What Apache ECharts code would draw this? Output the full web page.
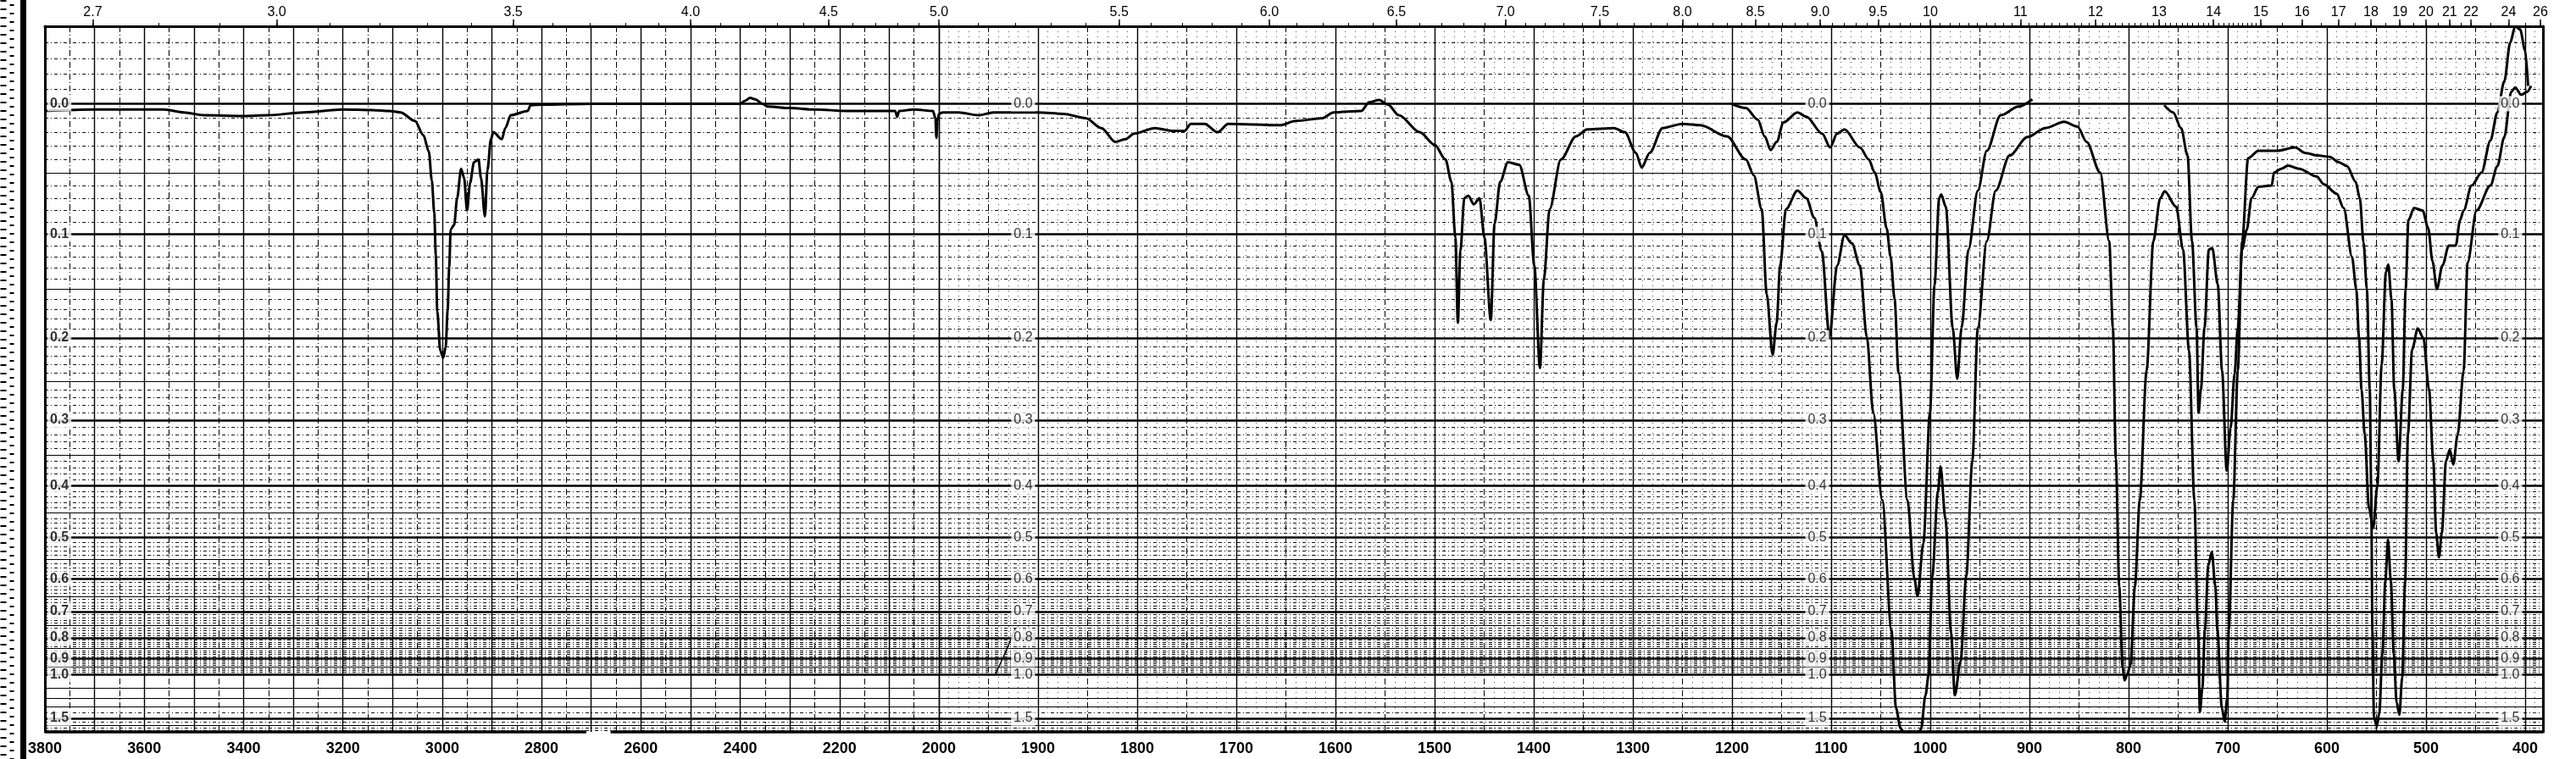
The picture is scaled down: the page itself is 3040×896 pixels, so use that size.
<!DOCTYPE html>
<html><head><meta charset="utf-8">
<script src="https://cdn.jsdelivr.net/npm/echarts@6/dist/echarts.min.js"></script>
<style>html,body{margin:0;padding:0;background:#fff}#c{width:3040px;height:896px}</style>
</head><body><div id="c"></div>
<script>
// ---- data: [wavenumber cm-1, absorbance] ----
const strongTrace = [
[3800,0.005],[3700,0.004],[3560,0.004],[3520,0.006],[3480,0.008],[3400,0.0085],[3350,0.008],[3280,0.006],[3200,0.004],[3140,0.0044],[3107,0.005],[3084,0.006],[3055,0.012],[3038,0.022],[3027,0.034],[3021,0.056],[3016,0.082],[3013,0.118],[3010,0.172],[3004,0.214],[2998,0.222],[2993,0.21],[2989,0.17],[2986,0.13],[2983,0.096],[2976,0.092],[2970,0.07],[2962,0.047],[2956,0.054],[2950,0.080],[2944,0.058],[2936,0.042],[2927,0.040],[2922,0.054],[2914,0.085],[2909,0.048],[2902,0.025],[2897,0.020],[2880,0.025],[2873,0.017],[2862,0.008],[2828,0.005],[2822,0.001],[2799,0.0006],[2700,0],[2500,0],[2400,0],[2390,-0.002],[2380,-0.004],[2370,-0.003],[2355,0],[2345,0.002],[2300,0.003],[2250,0.004],[2185,0.005],[2100,0.005],[2088,0.005],[2084,0.009],[2080,0.005],[2050,0.004],[2012,0.005],[2007,0.01],[2005,0.024],[2003,0.012],[2000,0.007],[1996,0.006],
[1980,0.006],[1960,0.008],[1945,0.006],[1900,0.006],[1874,0.007],[1852,0.010],[1836,0.017],[1822,0.027],[1812,0.025],[1803,0.021],[1782,0.017],[1765,0.019],[1752,0.019],[1746,0.014],[1732,0.014],[1719,0.020],[1708,0.014],[1656,0.015],[1640,0.012],[1613,0.010],[1602,0.006],[1574,0.005],[1566,-0.001],[1556,-0.0025],[1547,0.0006],[1536,0.008],[1515,0.020],[1500,0.029],[1489,0.04],[1483,0.057],[1479,0.103],[1476.5,0.184],[1474,0.115],[1470,0.07],[1466,0.068],[1460.4,0.075],[1454.7,0.07],[1449.7,0.103],[1443.3,0.181],[1439.5,0.091],[1433.8,0.057],[1426,0.042],[1414.6,0.044],[1405,0.068],[1399.4,0.128],[1393.7,0.234],[1389.8,0.141],[1384,0.079],[1372.6,0.040],[1357.4,0.023],[1346,0.018],[1319,0.017],[1308,0.020],[1297,0.035],[1291,0.046],[1283,0.035],[1270,0.017],[1250,0.014],[1232,0.015],[1205,0.023],[1186,0.040],[1178,0.052],[1170,0.079],[1165,0.155],[1159,0.219],[1155,0.184],[1151.4,0.128],[1145.6,0.079],[1134,0.064],[1125,0.070],[1117,0.086],[1109.4,0.115],[1101.7,0.199],[1094,0.128],[1086.5,0.101],[1079,0.108],[1071,0.128],[1064,0.199],[1057.5,0.29],[1048.4,0.426],[1039.2,0.768],[1034.6,1.32],[1030,1.8],[1027,2.0],[1012,2.0],[1009.4,1.86],[1004.8,1.17],[1001.7,1.0],[998,0.593],[992.3,0.411],[989.7,0.368],[984.6,0.463],[979,0.78],[975.2,1.17],[969.4,0.915],[963.7,0.593],[957.6,0.36],[952,0.189],[943,0.106],[934,0.064],[920,0.037],[902,0.0235],[884,0.017],[865,0.0126],[851.5,0.016],[842.3,0.027],[828.6,0.050],[819.5,0.106],[815.8,0.189],[812.8,0.356],[809.4,0.622],[806,0.95],[804,1.04],[801.5,1.0],[798,0.935],[793.6,0.622],[788.7,0.426],[781.8,0.237],[775,0.106],[768,0.070],[763.6,0.0645],[752,0.077],[745,0.1135],[739,0.2145],[733.6,0.426],[730,0.768],[728,1.38],[725.5,1.1],[723,0.768],[719.6,0.565],[716,0.532],[712.5,0.62],[710.4,0.768],[705.9,1.32],[703,1.58],[700.5,1.2],[698.9,0.768],[694.4,0.426],[689.8,0.237],[685.4,0.106],[679.4,0.039],[669,0.0335],[650,0.0335],[632,0.031],[622,0.035],[609,0.037],[597,0.038],[588,0.042],[579.5,0.045],[571,0.057],[566.7,0.07],[563,0.107],[559.6,0.15],[556.7,0.26],[555.3,0.4],[554,0.77],[552.5,1.47],[549.6,1.73],[547,1.39],[544,0.876],[541,0.607],[538.3,0.505],[535.4,0.607],[532.5,0.876],[529.6,1.25],[526.8,1.43],[524,1.02],[521,0.607],[518.2,0.32],[514,0.213],[508.3,0.19],[502.6,0.2],[496.9,0.26],[492.6,0.36],[489.7,0.49],[486.9,0.545],[484,0.49],[479.8,0.36],[476,0.342],[472.5,0.365],[468,0.32],[462,0.237],[458,0.125],[449,0.08],[435,0.06],[428,0.045],[421,0.0235],[414,-0.008],[410,-0.011],[404,-0.006],[398,-0.008],[394,-0.012]
];
const weakTrace1 = [
[1201,0],[1186,0.003],[1174,0.011],[1167,0.023],[1161,0.033],[1155,0.027],[1148,0.013],[1134,0.006],[1125,0.009],[1109,0.021],[1101,0.031],[1094,0.021],[1086.5,0.018],[1071,0.031],[1062,0.04],[1056,0.05],[1050,0.065],[1044,0.095],[1040,0.12],[1036,0.16],[1032,0.24],[1023,0.426],[1016,0.6],[1012.8,0.65],[1007,0.513],[1000.3,0.29],[995.7,0.146],[991,0.07],[989,0.067],[984.3,0.077],[977.4,0.189],[972.8,0.247],[968.4,0.189],[961.5,0.1135],[952,0.064],[943,0.0335],[929,0.008],[911,0.002],[897,-0.003]
];
const weakTrace2 = [
[764,0.001],[755,0.006],[747,0.017],[740.5,0.037],[736,0.106],[731.4,0.189],[729.4,0.29],[727,0.26],[723.4,0.189],[719,0.1135],[715.6,0.112],[710,0.1455],[705.7,0.237],[701,0.375],[697,0.31],[693,0.24],[689.8,0.189],[685.5,0.1135],[680.7,0.096],[676,0.07],[669,0.061],[655.6,0.06],[653.3,0.05],[646,0.047],[639,0.0446],[628,0.047],[610,0.053],[603,0.059],[590,0.0665],[583,0.078],[574.6,0.12],[570.3,0.15],[567.5,0.2],[565,0.26],[561.8,0.32],[557.5,0.44],[553.3,0.48],[549,0.4],[544.7,0.23],[540.4,0.134],[538,0.127],[534.8,0.16],[532,0.26],[527.6,0.36],[523.4,0.26],[520.5,0.15],[517.7,0.088],[512,0.078],[503.4,0.08],[497.7,0.095],[493.4,0.124],[489,0.15],[483.4,0.128],[477,0.11],[470,0.11],[465.6,0.088],[462,0.08],[454,0.06],[444,0.05],[435,0.026],[428,0.006],[421,-0.015],[415,-0.04],[410,-0.05],[405,-0.048],[400,-0.035],[397,-0.012]
];
const penMark = [[1943,0.997],[1933,0.87],[1923,0.763]];

// ---- axis texts ----
const bottomLabelsLeft = [3800,3600,3400,3200,3000,2800,2600,2400,2200];
const bottomLabelsRight = [2000,1900,1800,1700,1600,1500,1400,1300,1200,1100,1000,900,800,700,600,500,400];
const micronLabels = ['2.7','3.0','3.5','4.0','4.5','5.0','5.5','6.0','6.5','7.0','7.5','8.0','8.5','9.0','9.5','10','11','12','13','14','15','16','17','18','19','20','21','22','24','26'];
const absLabels = ['0.0','0.1','0.2','0.3','0.4','0.5','0.6','0.7','0.8','0.9','1.0','1.5'];
const labelColumnLeft = 3795;
const labelColumnsRight = [1915, 1114, 415];

// ---- paper grid (absorbance lines, wavenumber lines) ----
const A_MAJOR = [0,0.1,0.2,0.3,0.4,0.5,0.6,0.7,0.8,0.9,1.0,1.5];
const A_MID = [0.05,0.15,0.25,0.35,0.45,0.55,0.65,0.75,0.85,0.95,1.1,1.2,1.3,1.7];
const A_MINOR = [];
for (let i = -4; i <= 99; i++) { if (i % 5 !== 0) A_MINOR.push(i / 100); }
A_MINOR.push(1.4, 1.6, 1.8, 1.9);

const T = a => Math.pow(10, -a);
const yMin = T(2.0), yMax = T(-0.05);
const X0 = {min: 2000, max: 3800}, X1 = {min: 382, max: 2000};

const g0_100 = [], g0_50 = [], g1_100 = [], g1_50 = [], g1_10 = [];
for (let w = 2000; w <= 3700; w += 100) g0_100.push(w);
for (let w = 2050; w <= 3750; w += 100) g0_50.push(w);
for (let w = 400; w <= 2000; w += 100) g1_100.push(w);
for (let w = 450; w <= 1950; w += 100) g1_50.push(w);
for (let w = 390; w <= 1990; w += 10) { if (w % 50 !== 0) g1_10.push(w); }

const micronMinor = [];
for (let m = 27; m <= 150; m++) micronMinor.push(m / 10);
for (let m = 155; m <= 220; m += 5) micronMinor.push(m / 10);
micronMinor.push(23, 24, 25, 26);
const micLabWn = micronLabels.map(s => 1e4 / parseFloat(s));
const micMinWn = micronMinor.map(m => 1e4 / m);
const fmtMicron = v => { const m = 1e4 / v; return m < 9.99 ? m.toFixed(1) : String(Math.round(m)); };
const fmtWn = v => String(Math.round(v));

const FONT = 'Liberation Sans';

function yAxesFor(gi, pos, frame) {
  const base = {type: 'value', gridIndex: gi, min: yMin, max: yMax, position: pos, axisLabel: {show: false}};
  return [
    Object.assign({}, base, {axisLine: {show: frame, onZero: false, lineStyle: {color: '#000', width: 3}},
      axisTick: {show: false, customValues: A_MAJOR.map(T)}, splitLine: {show: true, lineStyle: {color: '#000', width: 2.6}}}),
    Object.assign({}, base, {axisLine: {show: false}, axisTick: {show: false, customValues: A_MID.map(T)},
      splitLine: {show: true, lineStyle: {color: '#000', width: 1.2}}}),
    Object.assign({}, base, {axisLine: {show: false}, axisTick: {show: false, customValues: A_MINOR.map(T)},
      splitLine: {show: true, lineStyle: {color: '#111', width: 1, type: [4, 3, 1, 3]}}})
  ];
}

function xAxesFor(gi, rng, v100, v50, v10, bottomLabels, topLab, topMin) {
  const base = {type: 'value', gridIndex: gi, min: rng.min, max: rng.max, inverse: true};
  const arr = [
    Object.assign({}, base, {position: 'bottom', axisLine: {show: false, onZero: false},
      axisTick: {show: false, customValues: v100},
      axisLabel: {show: true, customValues: bottomLabels, formatter: fmtWn, margin: 11, fontSize: 18, fontWeight: 'bold', fontFamily: FONT, color: '#000'},
      splitLine: {show: true, lineStyle: {color: '#000', width: 1.4}}}),
    Object.assign({}, base, {position: 'bottom', axisLine: {show: false, onZero: false},
      axisTick: {show: false, customValues: v50}, axisLabel: {show: false},
      splitLine: {show: true, lineStyle: {color: '#000', width: 1, type: [7, 3, 1, 3]}}}),
    Object.assign({}, base, {position: 'top', axisLine: {show: true, onZero: false, lineStyle: {color: '#000', width: 3}},
      axisTick: {show: true, customValues: topLab, length: 8, lineStyle: {color: '#000', width: 1.5}},
      axisLabel: {show: true, customValues: topLab, formatter: fmtMicron, margin: 8, fontSize: 16, fontFamily: FONT, color: '#000'},
      splitLine: {show: false}}),
    Object.assign({}, base, {position: 'top', axisLine: {show: false, onZero: false},
      axisTick: {show: true, customValues: topMin, length: 4, lineStyle: {color: '#000', width: 1}},
      axisLabel: {show: false}, splitLine: {show: false}})
  ];
  if (v10) arr.push(Object.assign({}, base, {position: 'bottom', axisLine: {show: false, onZero: false},
      axisTick: {show: false, customValues: v10}, axisLabel: {show: false},
      splitLine: {show: true, lineStyle: {color: '#555', width: 1, type: [1, 5]}}}));
  return arr;
}

const xAxes = [].concat(
  xAxesFor(0, X0, g0_100, g0_50, null, bottomLabelsLeft, micLabWn.filter(w => w > 2000.5), micMinWn.filter(w => w > 2000.5)),
  xAxesFor(1, X1, g1_100, g1_50, g1_10, bottomLabelsRight, micLabWn.filter(w => w <= 2000.5), micMinWn.filter(w => w <= 2000.5))
); // grid0: 0..3, grid1: 4..8
const yAxes = [].concat(yAxesFor(0, 'left', true), yAxesFor(1, 'right', true)); // grid0: 0..2, grid1: 3..5

const toXY = arr => arr.map(p => [p[0], T(p[1])]);
const lineBase = {type: 'line', showSymbol: false, symbol: 'none', smooth: 0.3, smoothMonotone: 'x', silent: true,
  lineStyle: {color: '#000', width: 3}, z: 3, animation: false};
const frameLine = {silent: true, symbol: ['none', 'none'], label: {show: false}, animation: false,
  lineStyle: {color: '#000', width: 3.5, type: 'solid'}, emphasis: {disabled: true}};

const labelStyle = {show: true, position: 'inside', formatter: p => p.value[2], fontSize: 16, fontFamily: FONT,
  color: '#000', backgroundColor: '#fff', padding: [1, 3]};

const option = {
  backgroundColor: '#fff',
  animation: false,
  grid: [
    {left: 53, top: 31, width: 1055, height: 833},
    {left: 1108, top: 31, width: 1893, height: 833}
  ],
  xAxis: xAxes,
  yAxis: yAxes,
  graphic: [
    {type: 'rect', shape: {x: 24, y: 0, width: 7, height: 896}, style: {fill: '#000'}, silent: true},
    {type: 'line', shape: {x1: 4, y1: 0, x2: 4, y2: 896}, style: {stroke: '#000', lineWidth: 7, lineDash: [2, 8]}, silent: true},
    {type: 'line', shape: {x1: 14, y1: 5, x2: 14, y2: 896}, style: {stroke: '#000', lineWidth: 5, lineDash: [2, 8]}, silent: true}
  ],
  series: [
    Object.assign({}, lineBase, {name: 'strong-left', xAxisIndex: 0, yAxisIndex: 0,
      data: toXY(strongTrace.filter(p => p[0] >= 2000)),
      markLine: Object.assign({}, frameLine, {data: [
        [{coord: [3800, yMin]}, {coord: [2710, yMin]}],
        [{coord: [2661, yMin]}, {coord: [2000, yMin]}]
      ]})}),
    Object.assign({}, lineBase, {name: 'strong-right', xAxisIndex: 4, yAxisIndex: 3,
      data: toXY(strongTrace.filter(p => p[0] <= 2000)),
      markLine: Object.assign({}, frameLine, {data: [
        [{coord: [2000, yMin]}, {coord: [382, yMin]}]
      ]})}),
    Object.assign({}, lineBase, {name: 'weak-1', xAxisIndex: 4, yAxisIndex: 3, data: toXY(weakTrace1)}),
    Object.assign({}, lineBase, {name: 'weak-2', xAxisIndex: 4, yAxisIndex: 3, data: toXY(weakTrace2)}),
    Object.assign({}, lineBase, {name: 'pen', xAxisIndex: 4, yAxisIndex: 3, smooth: false, lineStyle: {color: '#000', width: 1.5}, data: toXY(penMark)}),
    {type: 'scatter', xAxisIndex: 0, yAxisIndex: 0, symbolSize: 1, itemStyle: {color: 'transparent'}, silent: true, z: 6,
      label: Object.assign({}, labelStyle, {align: 'left', fontWeight: 'bold'}),
      data: absLabels.map(s => [labelColumnLeft, T(parseFloat(s)), s])},
    {type: 'scatter', xAxisIndex: 4, yAxisIndex: 3, symbolSize: 1, itemStyle: {color: 'transparent'}, silent: true, z: 6,
      label: Object.assign({}, labelStyle, {align: 'center'}),
      data: [].concat(...labelColumnsRight.map(c => absLabels.map(s => [c, T(parseFloat(s)), s])))}
  ]
};

const chart = echarts.init(document.getElementById('c'), null, {renderer: 'canvas'});
chart.setOption(option);
</script>
</body></html>
